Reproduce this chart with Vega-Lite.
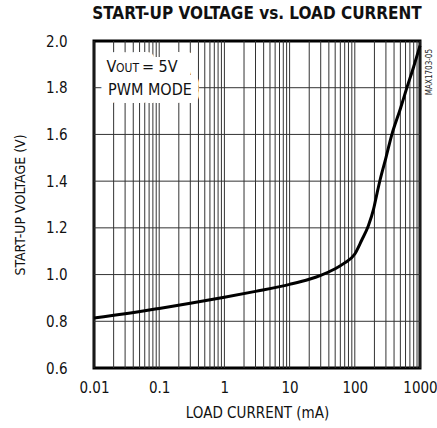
{
  "$schema": "https://vega.github.io/schema/vega-lite/v6.json",
  "autosize": {"type": "none"},
  "padding": {"left": 94, "top": 41, "right": 17, "bottom": 60},
  "width": 326,
  "height": 327,
  "background": "white",
  "title": {
    "text": "START-UP VOLTAGE vs. LOAD CURRENT",
    "font": "DejaVu Sans Condensed",
    "fontSize": 17,
    "fontWeight": "bold",
    "color": "#111",
    "anchor": "middle",
    "offset": 11
  },
  "config": {
    "view": {"stroke": "#000", "strokeWidth": 3},
    "axis": {
      "labelFont": "DejaVu Sans Condensed",
      "titleFont": "DejaVu Sans Condensed",
      "labelFontSize": 15,
      "titleFontSize": 14,
      "titleFontWeight": "normal",
      "labelColor": "#111",
      "titleColor": "#111",
      "grid": false,
      "ticks": false,
      "tickSize": 0,
      "domain": false
    }
  },
  "layer": [
    {
      "data": {"values": [{"g":0.01},{"g":0.02},{"g":0.03},{"g":0.04},{"g":0.05},{"g":0.06},{"g":0.07},{"g":0.08},{"g":0.09},{"g":0.1},{"g":0.2},{"g":0.3},{"g":0.4},{"g":0.5},{"g":0.6},{"g":0.7},{"g":0.8},{"g":0.9},{"g":1},{"g":2},{"g":3},{"g":4},{"g":5},{"g":6},{"g":7},{"g":8},{"g":9},{"g":10},{"g":20},{"g":30},{"g":40},{"g":50},{"g":60},{"g":70},{"g":80},{"g":90},{"g":100},{"g":200},{"g":300},{"g":400},{"g":500},{"g":600},{"g":700},{"g":800},{"g":900},{"g":1000}]},
      "mark": {"type": "rule", "color": "#333", "strokeWidth": 1},
      "encoding": {
        "x": {
          "field": "g",
          "type": "quantitative",
          "title": "LOAD CURRENT (mA)",
          "scale": {"type": "log", "domain": [0.01, 1000]},
          "axis": {
            "values": [0.01, 0.1, 1, 10, 100, 1000],
            "labelExpr": "format(datum.value, '~g')",
            "labelPadding": 12,
            "titlePadding": 10,
            "titleFontSize": 15,
            "labelFlush": false,
            "labelOverlap": false
          }
        }
      }
    },
    {
      "data": {"values": [{"h":0.8},{"h":1.0},{"h":1.2},{"h":1.4},{"h":1.6},{"h":1.8}]},
      "mark": {"type": "rule", "color": "#333", "strokeWidth": 1},
      "encoding": {
        "y": {
          "field": "h",
          "type": "quantitative",
          "title": "START-UP VOLTAGE (V)",
          "scale": {"domain": [0.6, 2.0], "nice": false},
          "axis": {
            "values": [0.6, 0.8, 1.0, 1.2, 1.4, 1.6, 1.8, 2.0],
            "format": ".1f",
            "labelPadding": 27,
            "titlePadding": 18
          }
        }
      }
    },
    {
      "data": {
        "values": [
          {"current": 0.01, "voltage": 0.814},
          {"current": 0.03, "voltage": 0.832},
          {"current": 0.1, "voltage": 0.855},
          {"current": 0.3, "voltage": 0.877},
          {"current": 1, "voltage": 0.903},
          {"current": 3, "voltage": 0.928},
          {"current": 10, "voltage": 0.958},
          {"current": 20, "voltage": 0.98},
          {"current": 30, "voltage": 0.997},
          {"current": 50, "voltage": 1.025},
          {"current": 70, "voltage": 1.05},
          {"current": 100, "voltage": 1.088},
          {"current": 128, "voltage": 1.148},
          {"current": 162, "voltage": 1.21},
          {"current": 194, "voltage": 1.28},
          {"current": 220, "voltage": 1.35},
          {"current": 244, "voltage": 1.405},
          {"current": 300, "voltage": 1.5},
          {"current": 368, "voltage": 1.597},
          {"current": 500, "voltage": 1.71},
          {"current": 624, "voltage": 1.797},
          {"current": 800, "voltage": 1.89},
          {"current": 1000, "voltage": 1.98}
        ]
      },
      "mark": {"type": "line", "color": "#000", "strokeWidth": 3, "interpolate": "monotone"},
      "encoding": {
        "x": {"field": "current", "type": "quantitative"},
        "y": {"field": "voltage", "type": "quantitative"}
      }
    },
    {
      "data": {"values": [{"note": "vout"}]},
      "mark": {"type": "text", "text": "VOUT = 5V", "align": "left", "baseline": "alphabetic", "fontSize": 16, "font": "DejaVu Sans Condensed", "fill": "white", "stroke": "white", "strokeWidth": 16, "strokeJoin": "round"},
      "encoding": {"x": {"datum": 0.0155, "type": "quantitative"}, "y": {"datum": 1.867, "type": "quantitative"}}
    },
    {
      "data": {"values": [{"note": "pwm"}]},
      "mark": {"type": "text", "text": "PWM MODE", "align": "left", "baseline": "alphabetic", "fontSize": 16, "font": "DejaVu Sans Condensed", "fill": "white", "stroke": "white", "strokeWidth": 16, "strokeJoin": "round"},
      "encoding": {"x": {"datum": 0.0164, "type": "quantitative"}, "y": {"datum": 1.769, "type": "quantitative"}}
    },
    {
      "data": {"values": [{"note": "vout"}]},
      "mark": {"type": "text", "text": "V", "align": "left", "baseline": "alphabetic", "fontSize": 16, "font": "DejaVu Sans Condensed", "color": "#111"},
      "encoding": {"x": {"datum": 0.0155, "type": "quantitative"}, "y": {"datum": 1.867, "type": "quantitative"}}
    },
    {
      "data": {"values": [{"note": "out"}]},
      "mark": {"type": "text", "text": "OUT", "align": "left", "baseline": "alphabetic", "fontSize": 12, "font": "DejaVu Sans Condensed", "color": "#111"},
      "encoding": {"x": {"datum": 0.0218, "type": "quantitative"}, "y": {"datum": 1.867, "type": "quantitative"}}
    },
    {
      "data": {"values": [{"note": "eq"}]},
      "mark": {"type": "text", "text": "= 5V", "align": "left", "baseline": "alphabetic", "fontSize": 16, "font": "DejaVu Sans Condensed", "color": "#111"},
      "encoding": {"x": {"datum": 0.0544, "type": "quantitative"}, "y": {"datum": 1.867, "type": "quantitative"}}
    },
    {
      "data": {"values": [{"note": "pwm"}]},
      "mark": {"type": "text", "text": "PWM MODE", "align": "left", "baseline": "alphabetic", "fontSize": 16, "font": "DejaVu Sans Condensed", "color": "#111"},
      "encoding": {"x": {"datum": 0.0164, "type": "quantitative"}, "y": {"datum": 1.769, "type": "quantitative"}}
    },
    {
      "data": {"values": [{"note": "id"}]},
      "mark": {"type": "text", "text": "MAX1703-05", "align": "center", "baseline": "middle", "angle": 270, "dy": 10, "fontSize": 8, "font": "DejaVu Sans Condensed", "color": "#222"},
      "encoding": {"x": {"datum": 1000, "type": "quantitative"}, "y": {"datum": 1.867, "type": "quantitative"}}
    }
  ]
}
